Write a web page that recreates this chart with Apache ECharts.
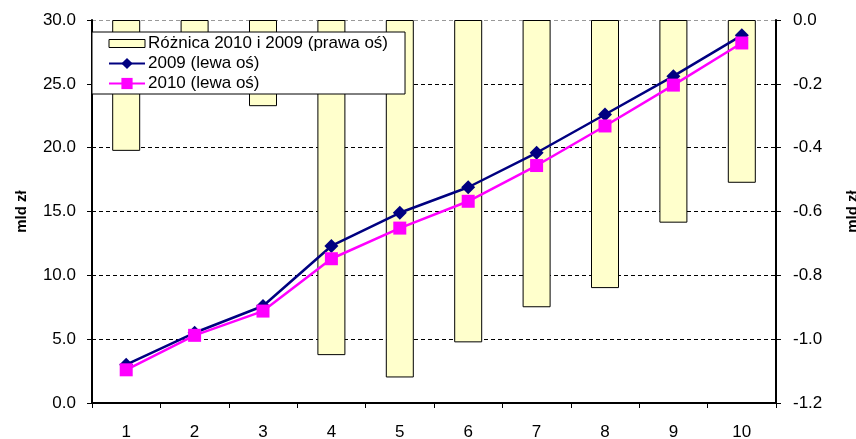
<!DOCTYPE html>
<html>
<head>
<meta charset="utf-8">
<script src="https://cdn.jsdelivr.net/npm/echarts@6/dist/echarts.min.js"></script>
<style>
  html, body { margin: 0; padding: 0; background: #fff; }
  #chart { width: 856px; height: 439px; }
</style>
</head>
<body>
<div id="chart"></div>
<script>
  // dane z wykresu
  var kategorie = ['1', '2', '3', '4', '5', '6', '7', '8', '9', '10'];
  var roznica = [-0.41, -0.17, -0.27, -1.05, -1.12, -1.01, -0.90, -0.84, -0.635, -0.51];
  var rok2009 = [3.0, 5.5, 7.6, 12.3, 14.9, 16.9, 19.6, 22.6, 25.6, 28.8];
  var rok2010 = [2.6, 5.3, 7.2, 11.3, 13.7, 15.8, 18.6, 21.7, 24.9, 28.2];

  var font = '"Liberation Sans", Arial, sans-serif';

  var myChart = echarts.init(document.getElementById('chart'));
  myChart.setOption({
    animation: false,
    textStyle: { fontFamily: font },
    grid: { left: 92, right: 80, top: 20, bottom: 36, containLabel: false, outerBoundsMode: 'none' },
    legend: {
      orient: 'vertical',
      left: 92,
      top: 32,
      padding: [3, 17, 2, 16],
      itemGap: 3,
      itemWidth: 36,
      itemHeight: 14,
      backgroundColor: '#fff',
      borderColor: '#000',
      borderWidth: 1,
      borderRadius: 0,
      textStyle: { fontSize: 17, lineHeight: 16, color: '#000', fontFamily: font, padding: [0, 0, 0, -2] },
      data: [
        { name: 'Różnica 2010 i 2009 (prawa oś)', icon: 'path://M0,0 L36,0 L36,8 L0,8 Z',
          itemStyle: { borderColor: '#000', borderWidth: 1 } },
        { name: '2009 (lewa oś)' },
        { name: '2010 (lewa oś)' }
      ]
    },
    xAxis: {
      type: 'category',
      data: kategorie,
      boundaryGap: true,
      axisLine: { lineStyle: { color: '#000', width: 2 } },
      axisTick: { show: true, length: 5, lineStyle: { color: '#000' } },
      axisLabel: { color: '#000', fontSize: 17, margin: 21, fontFamily: font }
    },
    yAxis: [
      {
        type: 'value',
        min: 0,
        max: 30,
        interval: 5,
        name: 'mld zł',
        nameLocation: 'middle',
        nameRotate: 90,
        nameGap: 63,
        nameTextStyle: { fontSize: 15, fontWeight: 'bold', color: '#000', fontFamily: font },
        axisLine: { show: true, lineStyle: { color: '#000', width: 2 } },
        axisTick: { show: true, inside: false, length: 5, lineStyle: { color: '#000' } },
        axisLabel: { color: '#000', fontSize: 17, margin: 16, fontFamily: font,
          formatter: function (v) { return v.toFixed(1); } },
        splitLine: { show: true, lineStyle: { type: [4, 3], width: 1,
          color: ['#000', '#000', '#000', '#000', '#000', '#000', '#999'] } }
      },
      {
        type: 'value',
        min: -1.2,
        max: 0,
        interval: 0.2,
        position: 'right',
        name: 'mld zł',
        nameLocation: 'middle',
        nameRotate: 90,
        nameGap: 69,
        nameTextStyle: { fontSize: 15, fontWeight: 'bold', color: '#000', fontFamily: font },
        axisLine: { show: true, lineStyle: { color: '#000', width: 2 } },
        axisTick: { show: true, inside: false, length: 5, lineStyle: { color: '#000' } },
        axisLabel: { color: '#000', fontSize: 17, margin: 17, fontFamily: font,
          formatter: function (v) { return v.toFixed(1); } },
        splitLine: { show: false }
      }
    ],
    series: [
      {
        name: 'Różnica 2010 i 2009 (prawa oś)',
        type: 'bar',
        yAxisIndex: 1,
        data: roznica,
        barWidth: 28,
        itemStyle: { color: '#FFFFCC', borderColor: '#000', borderWidth: 1 },
        z: 1
      },
      {
        name: '2009 (lewa oś)',
        type: 'line',
        yAxisIndex: 0,
        data: rok2009,
        symbol: 'diamond',
        symbolSize: 14,
        color: '#000080',
        lineStyle: { color: '#000080', width: 2.5 },
        itemStyle: { color: '#000080' },
        z: 3
      },
      {
        name: '2010 (lewa oś)',
        type: 'line',
        yAxisIndex: 0,
        data: rok2010,
        symbol: 'rect',
        symbolSize: 13,
        color: '#FF00FF',
        lineStyle: { color: '#FF00FF', width: 2.5 },
        itemStyle: { color: '#FF00FF' },
        z: 4
      }
    ]
  });
</script>
</body>
</html>
